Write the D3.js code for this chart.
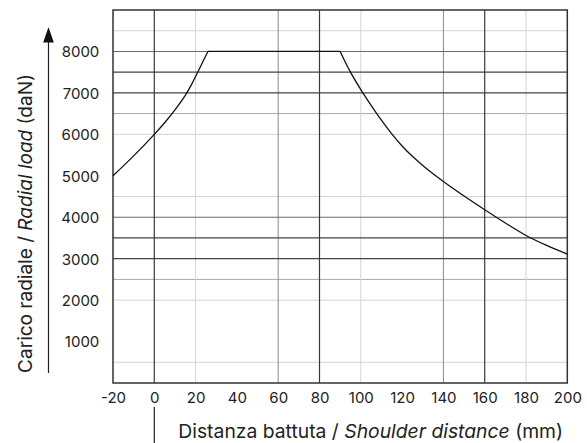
<!DOCTYPE html>
<html>
<head>
<meta charset="utf-8">
<script src="https://cdn.jsdelivr.net/npm/d3@7/dist/d3.min.js"></script>
<style>
  html, body { margin: 0; padding: 0; background: #fff; }
  svg { display: block; }
  .tick-label { font-family: Inter, "Open Sans", sans-serif; font-size: 15px; fill: #222; }
  .title { font-family: Inter, "Open Sans", sans-serif; font-size: 17px; fill: #222; }
</style>
</head>
<body>
<script>
// ---- data ----
const xDomain = [-20, 200];
const yDomain = [0, 9000];
const xTickValues = [-20, 0, 20, 40, 60, 80, 100, 120, 140, 160, 180, 200];
const yTickValues = [1000, 2000, 3000, 4000, 5000, 6000, 7000, 8000];

// grid lines present in the reference, grouped by shade
const xGridDark = [0, 80, 160];
const xGridMid = [60, 140];
const xGridLight = [20, 100, 180];
const yGridDark = [3000, 3500, 7000, 7500];
const yGridMid = [4000, 8000];
const yGridSoft = [2500, 6500];
const yGridLight = [500, 2000, 4500, 6000, 8500];

// load curve (daN) vs shoulder distance (mm)
const riseX = [-20, -10, 0, 5, 10, 15, 18, 21, 23.5, 26];
const riseLoad = [5000, 5480, 6000, 6280, 6590, 6940, 7200, 7500, 7750, 8000];
const plateauX = [26, 90];
const plateauLoad = [8000, 8000];
const fallX = [90, 95, 100, 105, 110, 115, 120, 125, 130, 140, 150, 160, 170, 180, 190, 200];
const fallLoad = [8000, 7500, 7080, 6700, 6340, 6010, 5720, 5470, 5250, 4860, 4510, 4180, 3860, 3560, 3320, 3110];

// ---- layout ----
const W = 587, H = 443;
const margin = { left: 113, right: 19.7, top: 10, bottom: 60 };
const iw = W - margin.left - margin.right;
const ih = H - margin.top - margin.bottom;

const svg = d3.select("body").append("svg").attr("width", W).attr("height", H);
const g = svg.append("g").attr("transform", `translate(${margin.left},${margin.top})`);

const x = d3.scaleLinear().domain(xDomain).range([0, iw]);
const y = d3.scaleLinear().domain(yDomain).range([ih, 0]);

function vGrid(vals, color, width) {
  g.append("g").selectAll("line").data(vals).join("line")
    .attr("x1", d => x(d)).attr("x2", d => x(d))
    .attr("y1", 0).attr("y2", ih)
    .attr("stroke", color).attr("stroke-width", width);
}
function hGrid(vals, color, width) {
  g.append("g").selectAll("line").data(vals).join("line")
    .attr("x1", 0).attr("x2", iw)
    .attr("y1", d => y(d)).attr("y2", d => y(d))
    .attr("stroke", color).attr("stroke-width", width);
}
hGrid(yGridLight, "#d4d4d4", 1);
hGrid(yGridSoft, "#a8a8a8", 1);
vGrid(xGridLight, "#d4d4d4", 1);
vGrid(xGridMid, "#8a8a8a", 1);
hGrid(yGridMid, "#6a6a6a", 1.1);
hGrid(yGridDark, "#444", 1.3);
vGrid(xGridDark, "#3a3a3a", 1.2);

// frame
g.append("rect").attr("x", 0).attr("y", 0).attr("width", iw).attr("height", ih)
  .attr("fill", "none").attr("stroke", "#333").attr("stroke-width", 1.5);

// curve
const rise = riseX.map((v, i) => [v, riseLoad[i]]);
const plateau = plateauX.map((v, i) => [v, plateauLoad[i]]);
const fall = fallX.map((v, i) => [v, fallLoad[i]]);
const smooth = d3.line().x(d => x(d[0])).y(d => y(d[1])).curve(d3.curveCatmullRom.alpha(0.5));
[rise, fall].forEach(pts => {
  g.append("path").datum(pts).attr("d", smooth)
    .attr("fill", "none").attr("stroke", "#111").attr("stroke-width", 1.3);
});
g.append("path").datum(plateau)
  .attr("d", d3.line().x(d => x(d[0])).y(d => y(d[1])))
  .attr("fill", "none").attr("stroke", "#111").attr("stroke-width", 1.3);

// x tick labels
const xAxis = d3.axisBottom(x).tickValues(xTickValues).tickSize(0).tickPadding(0)
  .tickFormat(d => d < 0 ? "-" + Math.abs(d) : d);
const xa = g.append("g").attr("transform", `translate(0,${ih})`).call(xAxis);
xa.select(".domain").remove();
xa.attr("font-family", null).attr("font-size", null);
xa.selectAll("text").attr("class", "tick-label").attr("y", 20).attr("dy", 0);

// y tick labels
const yAxis = d3.axisLeft(y).tickValues(yTickValues).tickSize(0).tickPadding(0).tickFormat(d3.format("d"));
const ya = g.append("g").call(yAxis);
ya.select(".domain").remove();
ya.attr("font-family", null).attr("font-size", null);
ya.selectAll("text").attr("class", "tick-label").attr("x", -13.7).attr("dy", "0.36em");

// y axis arrow
svg.append("line").attr("x1", 48.5).attr("x2", 48.5).attr("y1", 373).attr("y2", 40)
  .attr("stroke", "#222").attr("stroke-width", 1.2);
svg.append("path").attr("d", "M48.5,27 L43.2,42.5 L53.8,42.5 Z").attr("fill", "#111");

// marker under 0
svg.append("line").attr("x1", margin.left + x(0)).attr("x2", margin.left + x(0))
  .attr("y1", 407).attr("y2", 443).attr("stroke", "#222").attr("stroke-width", 1.2);

// axis titles
const xt = svg.append("text").attr("class", "title")
  .attr("x", 370.7).attr("y", 437.7).attr("text-anchor", "middle");
xt.append("tspan").text("Distanza battuta / ");
xt.append("tspan").attr("font-style", "italic").text("Shoulder distance");
xt.append("tspan").text(" (mm)");

const yt = svg.append("text").attr("class", "title")
  .attr("transform", "translate(32,223.5) rotate(-90)").attr("text-anchor", "middle");
yt.append("tspan").text("Carico radiale / ");
yt.append("tspan").attr("font-style", "italic").text("Radial load");
yt.append("tspan").text(" (daN)");

// fit title font sizes to the reference text extents
function fit(sel, target) {
  const w = sel.node().getComputedTextLength();
  sel.style("font-size", (17 * target / w).toFixed(2) + "px");
}
fit(xt, 385);
fit(yt, 299);
</script>
</body>
</html>
